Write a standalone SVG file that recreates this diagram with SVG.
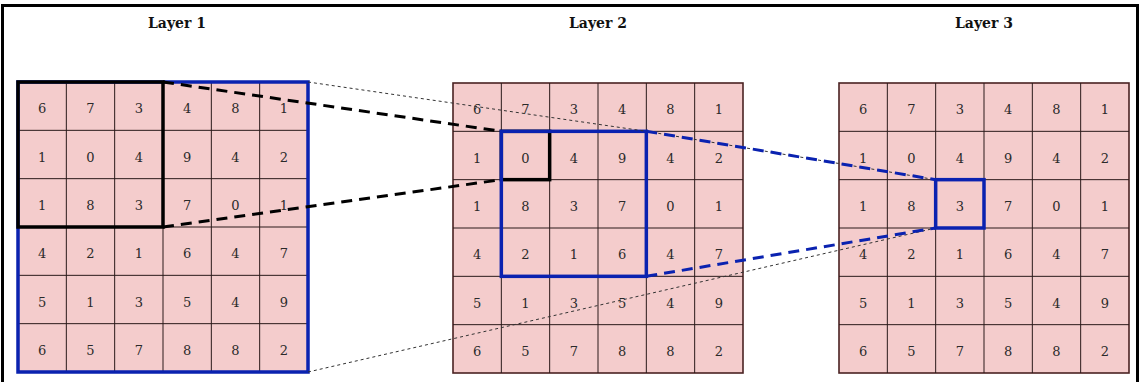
<svg xmlns="http://www.w3.org/2000/svg" width="1141" height="382" viewBox="0 0 1141 382">
<style>
.bg{fill:#ffffff}
.frame{fill:none;stroke:#000;stroke-width:3}
.title{font-family:"DejaVu Serif",serif;font-weight:bold;font-size:14px;fill:#111;text-anchor:middle}
.cellbg{fill:#f4cccc;stroke:#4a2222;stroke-width:1.6}
.gl{stroke:#2a1a1a;stroke-width:1;fill:none}
.num{font-family:"DejaVu Serif",serif;font-size:13px;fill:#2a2a2a;text-anchor:middle}
.blue{fill:none;stroke:#0a22b0;stroke-width:3.5}
.blk{fill:none;stroke:#000;stroke-width:3.5}
.dashk{fill:none;stroke:#000;stroke-width:3;stroke-dasharray:11 7}
.dashb{fill:none;stroke:#0a22b0;stroke-width:3;stroke-dasharray:11 7}
.dot{fill:none;stroke:#333;stroke-width:1;stroke-dasharray:3 3}
</style>
<rect class="bg" x="0" y="0" width="1141" height="382"/>
<rect class="frame" x="2.5" y="5.5" width="1135" height="390"/>
<text class="title" x="177" y="28">Layer 1</text>
<text class="title" x="598" y="28">Layer 2</text>
<text class="title" x="984" y="28">Layer 3</text>

<g id="layer1" transform="translate(18,82)">
<rect class="cellbg" x="0" y="0" width="290" height="290"/>
<path class="gl" d="M48.33,0V290M96.67,0V290M145,0V290M193.33,0V290M241.67,0V290M0,48.33H290M0,96.67H290M0,145H290M0,193.33H290M0,241.67H290"/>
<g class="num">
<text x="24.17" y="31.2">6</text><text x="72.5" y="31.2">7</text><text x="120.83" y="31.2">3</text><text x="169.17" y="31.2">4</text><text x="217.5" y="31.2">8</text><text x="265.83" y="31.2">1</text>
<text x="24.17" y="79.5">1</text><text x="72.5" y="79.5">0</text><text x="120.83" y="79.5">4</text><text x="169.17" y="79.5">9</text><text x="217.5" y="79.5">4</text><text x="265.83" y="79.5">2</text>
<text x="24.17" y="127.8">1</text><text x="72.5" y="127.8">8</text><text x="120.83" y="127.8">3</text><text x="169.17" y="127.8">7</text><text x="217.5" y="127.8">0</text><text x="265.83" y="127.8">1</text>
<text x="24.17" y="176.2">4</text><text x="72.5" y="176.2">2</text><text x="120.83" y="176.2">1</text><text x="169.17" y="176.2">6</text><text x="217.5" y="176.2">4</text><text x="265.83" y="176.2">7</text>
<text x="24.17" y="224.5">5</text><text x="72.5" y="224.5">1</text><text x="120.83" y="224.5">3</text><text x="169.17" y="224.5">5</text><text x="217.5" y="224.5">4</text><text x="265.83" y="224.5">9</text>
<text x="24.17" y="272.8">6</text><text x="72.5" y="272.8">5</text><text x="120.83" y="272.8">7</text><text x="169.17" y="272.8">8</text><text x="217.5" y="272.8">8</text><text x="265.83" y="272.8">2</text>
</g>
<rect class="blue" x="0" y="0" width="290" height="290"/>
<rect class="blk" x="0" y="0" width="145" height="145"/>
</g>

<g id="layer2" transform="translate(453,83)">
<rect class="cellbg" x="0" y="0" width="290" height="290"/>
<path class="gl" d="M48.33,0V290M96.67,0V290M145,0V290M193.33,0V290M241.67,0V290M0,48.33H290M0,96.67H290M0,145H290M0,193.33H290M0,241.67H290"/>
<g class="num">
<text x="24.17" y="31.2">6</text><text x="72.5" y="31.2">7</text><text x="120.83" y="31.2">3</text><text x="169.17" y="31.2">4</text><text x="217.5" y="31.2">8</text><text x="265.83" y="31.2">1</text>
<text x="24.17" y="79.5">1</text><text x="72.5" y="79.5">0</text><text x="120.83" y="79.5">4</text><text x="169.17" y="79.5">9</text><text x="217.5" y="79.5">4</text><text x="265.83" y="79.5">2</text>
<text x="24.17" y="127.8">1</text><text x="72.5" y="127.8">8</text><text x="120.83" y="127.8">3</text><text x="169.17" y="127.8">7</text><text x="217.5" y="127.8">0</text><text x="265.83" y="127.8">1</text>
<text x="24.17" y="176.2">4</text><text x="72.5" y="176.2">2</text><text x="120.83" y="176.2">1</text><text x="169.17" y="176.2">6</text><text x="217.5" y="176.2">4</text><text x="265.83" y="176.2">7</text>
<text x="24.17" y="224.5">5</text><text x="72.5" y="224.5">1</text><text x="120.83" y="224.5">3</text><text x="169.17" y="224.5">5</text><text x="217.5" y="224.5">4</text><text x="265.83" y="224.5">9</text>
<text x="24.17" y="272.8">6</text><text x="72.5" y="272.8">5</text><text x="120.83" y="272.8">7</text><text x="169.17" y="272.8">8</text><text x="217.5" y="272.8">8</text><text x="265.83" y="272.8">2</text>
</g>
<rect class="blk" x="48.33" y="48.33" width="48.33" height="48.33"/>
<rect class="blue" x="48.33" y="48.33" width="145" height="145"/>
</g>

<g id="layer3" transform="translate(839,83)">
<rect class="cellbg" x="0" y="0" width="290" height="290"/>
<path class="gl" d="M48.33,0V290M96.67,0V290M145,0V290M193.33,0V290M241.67,0V290M0,48.33H290M0,96.67H290M0,145H290M0,193.33H290M0,241.67H290"/>
<g class="num">
<text x="24.17" y="31.2">6</text><text x="72.5" y="31.2">7</text><text x="120.83" y="31.2">3</text><text x="169.17" y="31.2">4</text><text x="217.5" y="31.2">8</text><text x="265.83" y="31.2">1</text>
<text x="24.17" y="79.5">1</text><text x="72.5" y="79.5">0</text><text x="120.83" y="79.5">4</text><text x="169.17" y="79.5">9</text><text x="217.5" y="79.5">4</text><text x="265.83" y="79.5">2</text>
<text x="24.17" y="127.8">1</text><text x="72.5" y="127.8">8</text><text x="120.83" y="127.8">3</text><text x="169.17" y="127.8">7</text><text x="217.5" y="127.8">0</text><text x="265.83" y="127.8">1</text>
<text x="24.17" y="176.2">4</text><text x="72.5" y="176.2">2</text><text x="120.83" y="176.2">1</text><text x="169.17" y="176.2">6</text><text x="217.5" y="176.2">4</text><text x="265.83" y="176.2">7</text>
<text x="24.17" y="224.5">5</text><text x="72.5" y="224.5">1</text><text x="120.83" y="224.5">3</text><text x="169.17" y="224.5">5</text><text x="217.5" y="224.5">4</text><text x="265.83" y="224.5">9</text>
<text x="24.17" y="272.8">6</text><text x="72.5" y="272.8">5</text><text x="120.83" y="272.8">7</text><text x="169.17" y="272.8">8</text><text x="217.5" y="272.8">8</text><text x="265.83" y="272.8">2</text>
</g>
<rect class="blue" x="96.67" y="96.67" width="48.33" height="48.33"/>
</g>

<g id="connectors">
<path class="dot" d="M308,82L646.3,131.3L935.7,179.7"/>
<path class="dot" d="M308,372L935.7,228"/>
<path class="dashk" d="M163,82L501.3,131.3"/>
<path class="dashk" d="M163,227L501.3,179.7"/>
<path class="dashb" d="M646.3,131.3L935.7,179.7"/>
<path class="dashb" d="M646.3,276.3L935.7,228"/>
</g>
</svg>
